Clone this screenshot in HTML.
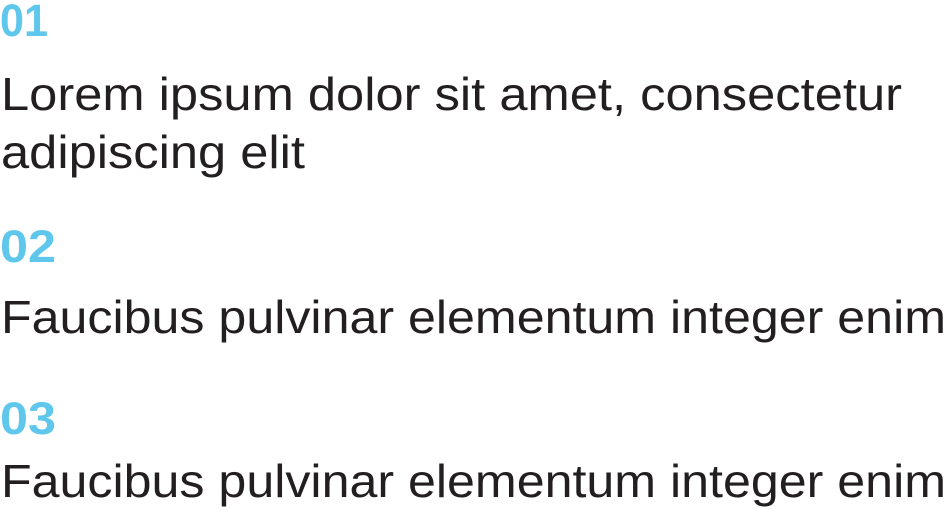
<!DOCTYPE html>
<html><head><meta charset="utf-8"><style>html,body{margin:0;padding:0;background:#fff;}svg{display:block}</style></head>
<body>
<svg width="946" height="510" xmlns="http://www.w3.org/2000/svg">
<g font-family="Liberation Sans, sans-serif">
<text x="0" y="36" font-size="45" font-weight="bold" fill="#5fc7eb" textLength="48" lengthAdjust="spacingAndGlyphs">01</text>
<text x="1" y="110" font-size="46" fill="#231f20" textLength="901" lengthAdjust="spacingAndGlyphs">Lorem ipsum dolor sit amet, consectetur</text>
<text x="1" y="168" font-size="46" fill="#231f20" textLength="304" lengthAdjust="spacingAndGlyphs">adipiscing elit</text>
<text x="0" y="262" font-size="45" font-weight="bold" fill="#5fc7eb" textLength="56" lengthAdjust="spacingAndGlyphs">02</text>
<text x="1" y="333" font-size="46" fill="#231f20" textLength="945" lengthAdjust="spacingAndGlyphs">Faucibus pulvinar elementum integer enim</text>
<text x="0" y="434" font-size="45" font-weight="bold" fill="#5fc7eb" textLength="56" lengthAdjust="spacingAndGlyphs">03</text>
<text x="1" y="497" font-size="46" fill="#231f20" textLength="945" lengthAdjust="spacingAndGlyphs">Faucibus pulvinar elementum integer enim</text>
</g>
</svg>
</body></html>
